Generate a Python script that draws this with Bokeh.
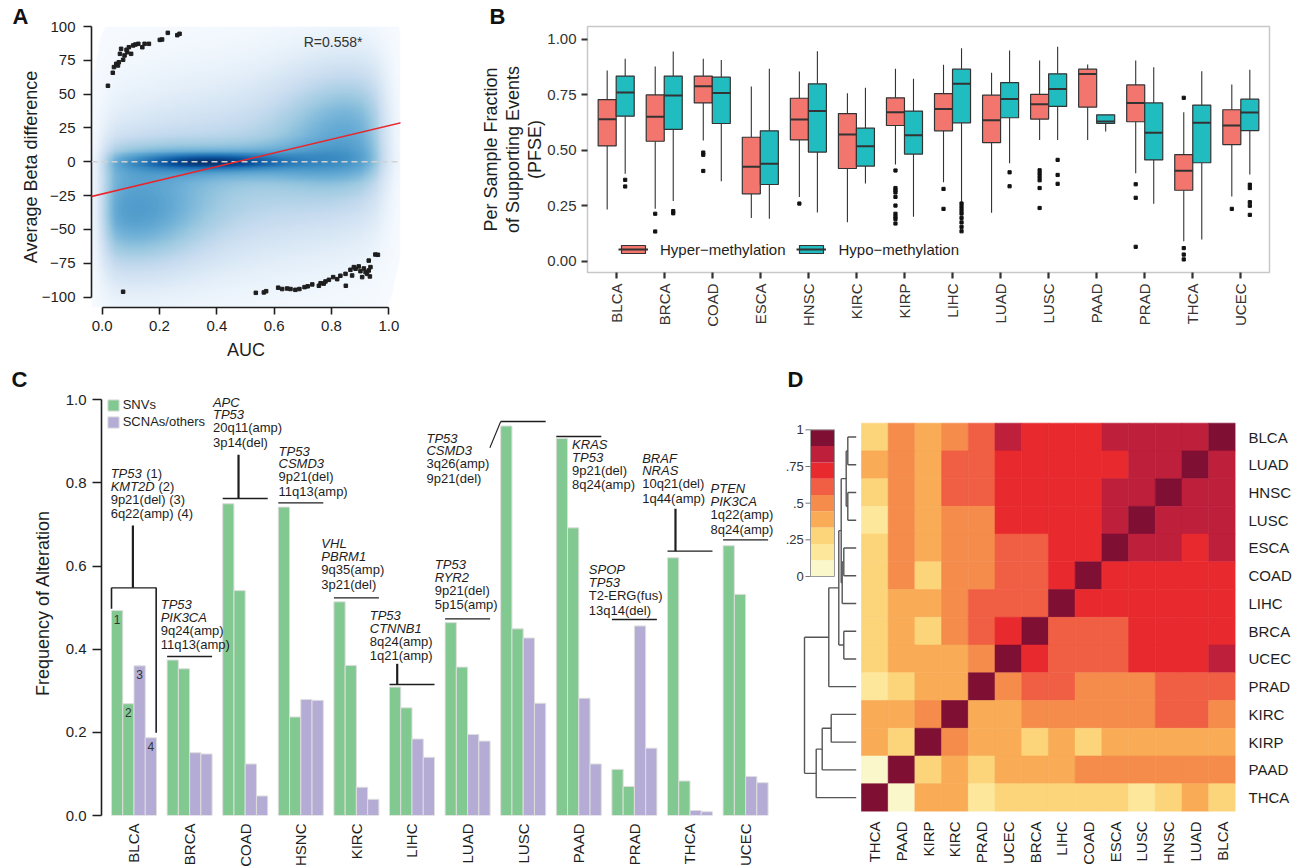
import numpy as np
from bokeh.plotting import figure
from bokeh.models import (Range1d, FixedTicker, LinearColorMapper, Slope, Span,
                          Legend, LegendItem, ColumnDataSource)
from bokeh.layouts import row, column
from bokeh.embed import file_html
from bokeh.resources import INLINE
from bokeh.palettes import Blues256
from bokeh.transform import transform
from bokeh.core.properties import value

FONT = "Liberation Sans"
INK = "#1e1e1e"

# ======================= DATA =======================
# ---- Panel A ----
auc_ticks = [0.0, 0.2, 0.4, 0.6, 0.8, 1.0]
auc_labels = ["0.0", "0.2", "0.4", "0.6", "0.8", "1.0"]
beta_ticks = [-100, -75, -50, -25, 0, 25, 50, 75, 100]
beta_labels = ["\u2212100", "\u221275", "\u221250", "\u221225", "0", "25", "50", "75", "100"]
hi_auc = [0.020, 0.037, 0.041, 0.049, 0.055, 0.058, 0.062, 0.066, 0.073, 0.078, 0.085, 0.087,
          0.093, 0.101, 0.108, 0.116, 0.126, 0.140, 0.148, 0.163, 0.201, 0.209, 0.229, 0.262, 0.270]
hi_beta = [56.2, 65.8, 70.0, 72.4, 71.2, 73.6, 79.8, 83.5, 75.4, 78.6, 82.8, 81.0,
           84.7, 79.8, 86.0, 86.7, 87.2, 84.7, 87.2, 87.2, 90.1, 90.4, 95.3, 93.6, 94.6]
lo_auc = [0.073, 0.536, 0.564, 0.572, 0.614, 0.628, 0.645, 0.657, 0.674, 0.688, 0.706, 0.717,
          0.733, 0.756, 0.762, 0.773, 0.779, 0.791, 0.806, 0.820, 0.831, 0.849, 0.850, 0.866,
          0.872, 0.878, 0.884, 0.895, 0.901, 0.907, 0.913, 0.919, 0.924, 0.930, 0.934, 0.936,
          0.930, 0.953, 0.962]
lo_beta = [-96.0, -96.8, -96.5, -95.6, -93.0, -94.0, -93.6, -94.0, -94.6, -94.0, -92.6, -92.0,
           -90.6, -91.6, -89.7, -90.0, -88.4, -87.2, -85.2, -86.7, -84.2, -82.8, -91.6, -79.8,
           -84.0, -77.8, -79.0, -77.3, -80.8, -85.2, -78.8, -81.5, -82.8, -80.3, -84.7, -77.8,
           -73.0, -68.5, -68.7]
fit_gradient = 50.4
fit_intercept = -23.7
r_label = "R=0.558*"
# density of all probes, described as Gaussian lobes inside soft AUC edges
dens_cx = [0.08, 0.88, 0.50, 0.38, 0.45]
dens_cy = [-38.0, 24.0, -8.0, 0.0, 0.0]
dens_sx = [0.20, 0.18, 0.35, 0.17, 0.40]
dens_sy = [32.0, 36.0, 45.0, 4.0, 9.0]
dens_w = [0.50, 0.42, 0.33, 0.45, 0.25]
dens_x_edges = [0.0, 0.985]
dens_edge_soft = [0.018, 0.025]

# ---- Panel B ----
cancers_b = ["BLCA", "BRCA", "COAD", "ESCA", "HNSC", "KIRC", "KIRP", "LIHC", "LUAD", "LUSC",
             "PAAD", "PRAD", "THCA", "UCEC"]
pfse_ticks = [0.0, 0.25, 0.5, 0.75, 1.0]
pfse_labels = ["0.00", "0.25", "0.50", "0.75", "1.00"]
hyper_hi = [0.860, 0.878, 0.913, 0.788, 0.856, 0.758, 0.868, 0.886, 0.850, 0.905, 0.887, 0.905, 0.672, 0.797]
hyper_q3 = [0.729, 0.750, 0.835, 0.559, 0.735, 0.666, 0.737, 0.756, 0.749, 0.752, 0.866, 0.795, 0.481, 0.683]
hyper_med = [0.640, 0.651, 0.789, 0.426, 0.639, 0.571, 0.672, 0.686, 0.636, 0.708, 0.844, 0.713, 0.408, 0.612]
hyper_q1 = [0.520, 0.541, 0.714, 0.304, 0.547, 0.418, 0.612, 0.588, 0.535, 0.641, 0.695, 0.629, 0.320, 0.526]
hyper_lo = [0.233, 0.236, 0.544, 0.195, 0.289, 0.176, 0.436, 0.356, 0.218, 0.547, 0.547, 0.397, 0.090, 0.292]
hypo_hi = [0.913, 0.946, 0.908, 0.868, 0.947, 0.782, 0.823, 0.961, 0.950, 0.967, 0.660, 0.875, 0.857, 0.863]
hypo_q3 = [0.835, 0.835, 0.830, 0.588, 0.800, 0.600, 0.677, 0.866, 0.805, 0.845, 0.660, 0.714, 0.704, 0.731]
hypo_med = [0.761, 0.747, 0.759, 0.439, 0.678, 0.519, 0.568, 0.800, 0.732, 0.777, 0.630, 0.579, 0.624, 0.671]
hypo_q1 = [0.654, 0.595, 0.621, 0.346, 0.492, 0.429, 0.483, 0.624, 0.647, 0.698, 0.621, 0.457, 0.444, 0.589]
hypo_lo = [0.394, 0.271, 0.361, 0.192, 0.220, 0.350, 0.200, 0.266, 0.442, 0.547, 0.585, 0.259, 0.098, 0.391]
hyper_out_cancer = ["BRCA", "BRCA", "COAD", "COAD", "COAD", "HNSC",
                    "KIRP", "KIRP", "KIRP", "KIRP", "KIRP", "KIRP", "KIRP", "KIRP", "KIRP", "KIRP",
                    "LIHC", "LIHC", "LUSC", "LUSC", "LUSC", "LUSC", "LUSC", "LUSC",
                    "PRAD", "PRAD", "PRAD", "THCA", "THCA", "THCA", "THCA", "UCEC"]
hyper_out_value = [0.214, 0.134, 0.490, 0.480, 0.407, 0.260,
                   0.409, 0.330, 0.320, 0.310, 0.290, 0.251, 0.214, 0.200, 0.190, 0.170,
                   0.326, 0.236, 0.410, 0.395, 0.380, 0.365, 0.330, 0.240,
                   0.347, 0.286, 0.065, 0.737, 0.059, 0.030, 0.008, 0.236]
hypo_out_cancer = ["BLCA", "BLCA", "BRCA", "BRCA",
                   "LIHC", "LIHC", "LIHC", "LIHC", "LIHC", "LIHC", "LIHC", "LIHC",
                   "LUAD", "LUAD", "LUSC", "LUSC", "LUSC",
                   "UCEC", "UCEC", "UCEC", "UCEC", "UCEC"]
hypo_out_value = [0.367, 0.337, 0.226, 0.216,
                  0.260, 0.245, 0.230, 0.215, 0.195, 0.175, 0.155, 0.135,
                  0.401, 0.338, 0.457, 0.389, 0.349,
                  0.345, 0.330, 0.266, 0.250, 0.209]

# ---- Panel C ----
groups_c = ["BLCA", "BRCA", "COAD", "HSNC", "KIRC", "LIHC", "LUAD", "LUSC", "PAAD", "PRAD", "THCA", "UCEC"]
freq_ticks = [0.0, 0.2, 0.4, 0.6, 0.8, 1.0]
freq_labels = ["0.0", "0.2", "0.4", "0.6", "0.8", "1.0"]
snv1 = [0.493, 0.374, 0.750, 0.742, 0.514, 0.309, 0.464, 0.937, 0.907, 0.111, 0.620, 0.649]
snv2 = [0.269, 0.353, 0.541, 0.237, 0.361, 0.259, 0.357, 0.449, 0.692, 0.070, 0.083, 0.532]
scna1 = [0.360, 0.151, 0.124, 0.279, 0.068, 0.184, 0.195, 0.427, 0.282, 0.456, 0.012, 0.094]
scna2 = [0.187, 0.148, 0.047, 0.277, 0.039, 0.140, 0.179, 0.270, 0.124, 0.162, 0.009, 0.079]
gene1 = ["TP53", "TP53", "APC", "TP53", "VHL", "TP53", "TP53", "TP53", "KRAS", "SPOP", "BRAF", "PTEN"]
gene2 = ["KMT2D", "PIK3CA", "TP53", "CSMD3", "PBRM1", "CTNNB1", "RYR2", "CSMD3", "TP53", "TP53", "NRAS", "PIK3CA"]
event1 = ["9p21(del) (3)", "9q24(amp)", "20q11(amp)", "9p21(del)", "9q35(amp)", "8q24(amp)", "9p21(del)",
          "3q26(amp)", "9p21(del)", "T2-ERG(fus)", "10q21(del)", "1q22(amp)"]
event2 = ["6q22(amp) (4)", "11q13(amp)", "3p14(del)", "11q13(amp)", "3p21(del)", "1q21(amp)", "5p15(amp)",
          "9p21(del)", "8q24(amp)", "13q14(del)", "1q44(amp)", "8q24(amp)"]
blca_numbers = ["1", "2", "3", "4"]
blca_gene_tags = ["(1)", "(2)"]

# ---- Panel D ----
row_names = ["BLCA", "LUAD", "HNSC", "LUSC", "ESCA", "COAD", "LIHC", "BRCA", "UCEC", "PRAD", "KIRC", "KIRP", "PAAD", "THCA"]
col_names = ["THCA", "PAAD", "KIRP", "KIRC", "PRAD", "UCEC", "BRCA", "LIHC", "COAD", "ESCA", "LUSC", "HNSC", "LUAD", "BLCA"]
corr = [
    [.27, .50, .38, .50, .61, .83, .72, .72, .72, .83, .83, .83, .83, 1.0],
    [.38, .50, .38, .61, .61, .72, .72, .72, .72, .72, .83, .83, 1.0, .83],
    [.27, .50, .38, .61, .61, .72, .72, .72, .72, .83, .83, 1.0, .83, .83],
    [.16, .50, .38, .50, .50, .72, .72, .72, .72, .83, 1.0, .83, .83, .83],
    [.27, .50, .38, .50, .50, .61, .61, .72, .72, 1.0, .83, .83, .72, .83],
    [.27, .50, .27, .50, .50, .61, .61, .72, 1.0, .72, .72, .72, .72, .72],
    [.27, .38, .38, .50, .61, .61, .61, 1.0, .72, .72, .72, .72, .72, .72],
    [.27, .38, .27, .50, .61, .72, 1.0, .61, .61, .61, .72, .72, .72, .72],
    [.27, .38, .38, .38, .50, 1.0, .72, .61, .61, .61, .72, .72, .72, .83],
    [.16, .27, .38, .38, 1.0, .50, .61, .61, .50, .50, .50, .61, .61, .61],
    [.38, .38, .50, 1.0, .38, .38, .50, .50, .50, .50, .50, .61, .61, .50],
    [.38, .27, 1.0, .50, .38, .38, .27, .38, .27, .38, .38, .38, .38, .38],
    [.05, 1.0, .27, .38, .27, .38, .38, .38, .50, .50, .50, .50, .50, .50],
    [1.0, .05, .38, .38, .16, .27, .27, .27, .27, .27, .16, .27, .38, .27],
]
dend_merges = [("BLCA", "LUAD", 8.4), ("HNSC", "LUSC", 8.4), (0, 1, 10.0), ("ESCA", "COAD", 12.4),
               (3, "LIHC", 14.0), (2, 4, 15.0), ("BRCA", "UCEC", 12.4), (5, 6, 17.4), (7, "PRAD", 27.4),
               ("KIRC", "KIRP", 25.0), (9, "PAAD", 34.0), (10, "THCA", 40.0), (8, 11, 51.7)]
cb_ticks = [0.0, 0.25, 0.5, 0.75, 1.0]
cb_labels = ["0", ".25", ".5", ".75", "1"]
heat_palette = ["#FAF7CB", "#FDE79B", "#FCD47A", "#F9AB56", "#F58C4B",
                "#F05E43", "#E82A2F", "#BE1F3A", "#7F0F33"]


# ======================= HELPERS =======================
def style_axis(ax, lab="15px", title="18px", color=INK):
    ax.major_label_text_font = FONT
    ax.major_label_text_font_size = lab
    ax.major_label_text_color = color
    ax.axis_label_text_font = FONT
    ax.axis_label_text_font_size = title
    ax.axis_label_text_font_style = "normal"
    ax.axis_label_text_color = color
    ax.minor_tick_line_color = None
    ax.major_tick_in = 0


def panel_letter(p, txt, offset, valign, standoff):
    p.title.text = txt
    p.title.align = "left"
    p.title.offset = offset
    p.title.standoff = standoff
    p.title.text_font = FONT
    p.title.text_font_size = "22px"
    p.title.text_font_style = "bold"
    p.title.text_color = "#111111"
    p.title.vertical_align = valign


def base_fig(**kw):
    p = figure(output_backend="svg", toolbar_location=None, **kw)
    p.grid.visible = False
    p.outline_line_color = None
    p.background_fill_color = "white"
    p.border_fill_color = "white"
    return p


# ======================= PANEL A =======================
ax0, ax1 = -0.0373, 1.0408
ay0, ay1 = -107.65, 100.0
pA = base_fig(frame_width=309, frame_height=281, min_border_left=91, min_border_right=70,
              min_border_top=26, min_border_bottom=57,
              x_range=Range1d(ax0, ax1), y_range=Range1d(ay0, ay1))
gx = np.linspace(ax0, ax1, 330)
gy = np.linspace(ay0, ay1, 300)
GX, GY = np.meshgrid(gx, gy)
dens = np.zeros_like(GX)
for cx, cy, sx, sy, w in zip(dens_cx, dens_cy, dens_sx, dens_sy, dens_w):
    dens += w * np.exp(-0.5 * ((GX - cx) / sx) ** 2 - 0.5 * ((GY - cy) / sy) ** 2)
env = (1.0 / (1.0 + np.exp(-(GX - dens_x_edges[0]) / dens_edge_soft[0]))
       * 1.0 / (1.0 + np.exp(-(dens_x_edges[1] - GX) / dens_edge_soft[1])))
dens = dens * env
blues = list(reversed(Blues256))
blues[0] = "#ffffff"
pA.image(image=[dens], x=ax0, y=ay0, dw=ax1 - ax0, dh=ay1 - ay0,
         color_mapper=LinearColorMapper(palette=blues, low=0, high=1.1))
pA.scatter(hi_auc, hi_beta, marker="square", size=3.5, color=INK)
pA.scatter(lo_auc, lo_beta, marker="square", size=3.5, color=INK)
pA.add_layout(Span(location=0, dimension="width", line_color="#d2d2d2", line_dash="6 4", line_width=1.5))
pA.add_layout(Slope(gradient=fit_gradient, y_intercept=fit_intercept, line_color="#e8262c", line_width=1.6))
pA.text(x=[0.703], y=[88.4], text=[r_label], text_font=value(FONT), text_font_size="14px",
        text_baseline="middle", text_align="left", text_color="#333333")
pA.xaxis.ticker = FixedTicker(ticks=auc_ticks)
pA.xaxis.major_label_overrides = dict(zip(auc_ticks, auc_labels))
pA.yaxis.ticker = FixedTicker(ticks=beta_ticks)
pA.yaxis.major_label_overrides = dict(zip(beta_ticks, beta_labels))
pA.xaxis.bounds = (0, 1)
pA.yaxis.bounds = (-100, 100)
pA.xaxis.axis_label = "AUC"
pA.yaxis.axis_label = "Average Beta difference"
for ax in (pA.xaxis, pA.yaxis):
    style_axis(ax)
    ax.axis_line_width = 1.6
    ax.axis_line_color = INK
    ax.major_tick_line_width = 1.6
    ax.major_tick_line_color = INK
pA.xaxis.major_tick_out = 7
pA.yaxis.major_tick_out = 8
pA.xaxis.major_label_standoff = 6
pA.xaxis.axis_label_standoff = 6
pA.yaxis.major_label_standoff = 8
pA.yaxis.axis_label_standoff = -2
panel_letter(pA, "A", -79, "bottom", -4)

# ======================= PANEL B =======================
HYPER = "#F3766E"
HYPO = "#20BCC0"
EDGE = "#333333"
pB = base_fig(frame_width=682, frame_height=246, min_border_left=117, min_border_right=27,
              min_border_top=26, min_border_bottom=92,
              x_range=Range1d(-0.597, 13.597), y_range=Range1d(-0.051, 1.0586))
pB.outline_line_color = "#c8c8c8"
pB.outline_line_width = 1.5
pos = {c: i for i, c in enumerate(cancers_b)}
xs = np.arange(len(cancers_b), dtype=float)
off, bw = 0.1875, 0.375
renders = {}
for name, xpos, hi, q3, md, q1, lo, col in (
        ("hyper", xs - off, hyper_hi, hyper_q3, hyper_med, hyper_q1, hyper_lo, HYPER),
        ("hypo", xs + off, hypo_hi, hypo_q3, hypo_med, hypo_q1, hypo_lo, HYPO)):
    pB.segment(x0=xpos, y0=q3, x1=xpos, y1=hi, line_color=EDGE, line_width=1.1)
    pB.segment(x0=xpos, y0=q1, x1=xpos, y1=lo, line_color=EDGE, line_width=1.1)
    bx = pB.vbar(x=xpos, width=bw, top=q3, bottom=q1, fill_color=col, line_color=EDGE, line_width=1.2)
    md_r = pB.segment(x0=xpos - off, x1=xpos + off, y0=md, y1=md, line_color=EDGE, line_width=2)
    renders[name] = [bx, md_r]
pB.scatter([pos[c] - off for c in hyper_out_cancer], hyper_out_value, marker="square", size=3.2,
           color="#111111")
pB.scatter([pos[c] + off for c in hypo_out_cancer], hypo_out_value, marker="square", size=3.2,
           color="#111111")
legB = Legend(items=[LegendItem(label="Hyper\u2212methylation", renderers=renders["hyper"]),
                     LegendItem(label="Hypo\u2212methylation", renderers=renders["hypo"])],
              location=(31, 13), orientation="horizontal", glyph_width=30, glyph_height=10,
              label_standoff=12, spacing=11, padding=0, margin=0, border_line_color=None,
              background_fill_alpha=0, label_text_font=FONT, label_text_font_size="15px",
              label_height=20, label_text_color=INK)
pB.add_layout(legB)
pB.xaxis.ticker = FixedTicker(ticks=list(range(len(cancers_b))))
pB.xaxis.major_label_overrides = {i: c for i, c in enumerate(cancers_b)}
pB.xaxis.major_label_orientation = np.pi / 2
pB.yaxis.ticker = FixedTicker(ticks=pfse_ticks)
pB.yaxis.major_label_overrides = dict(zip(pfse_ticks, pfse_labels))
pB.yaxis.axis_label = "Per Sample Fraction\nof Supporting Events\n(PFSE)"
for ax in (pB.xaxis, pB.yaxis):
    style_axis(ax, color="#333333")
    ax.axis_line_color = None
    ax.major_tick_out = 6
    ax.major_tick_line_width = 2.2
    ax.major_tick_line_color = "#333333"
    ax.major_label_standoff = 5
pB.yaxis.axis_label_text_color = INK
pB.yaxis.axis_label_standoff = -1
pB.yaxis.axis_label_text_line_height = 1.1
panel_letter(pB, "B", -98, "bottom", -4)

# ======================= PANEL C =======================
SNV_C = "#82C891"
SCNA_C = "#B4ACD5"
BAR_EDGE = "#dedede"
pC = base_fig(frame_width=673, frame_height=425, min_border_left=101, min_border_right=1,
              min_border_top=26, min_border_bottom=53,
              x_range=Range1d(-0.5845, 11.5199), y_range=Range1d(0, 1.0224))
gxc = np.arange(len(groups_c), dtype=float)
bwc = 0.2023
bar_off = [-1.5 * bwc, -0.5 * bwc, 0.5 * bwc, 1.5 * bwc]
r_snv = None
r_scna = None
for k, (vals, colr) in enumerate(((snv1, SNV_C), (snv2, SNV_C), (scna1, SCNA_C), (scna2, SCNA_C))):
    r = pC.vbar(x=gxc + bar_off[k], width=bwc, top=vals, bottom=0, fill_color=colr,
                line_color=BAR_EDGE, line_width=1)
    if k == 0:
        r_snv = r
    if k == 2:
        r_scna = r
blca_tops = [snv1[0], snv2[0], scna1[0], scna2[0]]
pC.text(x=[bar_off[k] for k in range(4)], y=[t - 0.022 for t in blca_tops], text=blca_numbers,
        text_font=value(FONT), text_font_size="12px", text_align="center", text_baseline="middle",
        text_color="#333333")
# annotation text blocks (placement)
ann_dx = [-0.42, -0.52, -0.58, -0.40, -0.63, -0.76, -0.59, -1.74, -0.12, -0.82, -0.86, -0.63]
ann_y = [0.8227, 0.5076, 0.9942, 0.8764, 0.6536, 0.4811, 0.6038, 0.9076, 0.8925, 0.5911, 0.8595, 0.7859]
line_step = [0.0, 0.0303, 0.0616, 0.0969]
gx_i, gy_i, gt_i = [], [], []
ex, ey, et = [], [], []
for i in range(len(groups_c)):
    x0 = gxc[i] + ann_dx[i]
    gx_i += [x0, x0]
    gy_i += [ann_y[i] - line_step[0], ann_y[i] - line_step[1]]
    gt_i += [gene1[i], gene2[i]]
    ex += [x0, x0]
    ey += [ann_y[i] - line_step[2], ann_y[i] - line_step[3]]
    et += [event1[i], event2[i]]
pC.text(x=gx_i, y=gy_i, text=gt_i, text_font=value(FONT), text_font_size="13px",
        text_font_style="italic", text_baseline="middle", text_align="left", text_color=INK)
pC.text(x=ex, y=ey, text=et, text_font=value(FONT), text_font_size="13px",
        text_baseline="middle", text_align="left", text_color=INK)
pC.text(x=[gxc[0] + ann_dx[0] + 0.64, gxc[0] + ann_dx[0] + 0.86],
        y=[ann_y[0] - line_step[0], ann_y[0] - line_step[1]], text=blca_gene_tags,
        text_font=value(FONT), text_font_size="13px", text_baseline="middle", text_align="left",
        text_color=INK)
brk_y = [0.5478, 0.3825, 0.7626, 0.7522, 0.5237, 0.3151, 0.4732, 0.9478, 0.9117, 0.4715, 0.6358, 0.6632]
half = 2 * bwc
pC.segment(x0=gxc - half, x1=gxc + half, y0=brk_y, y1=brk_y, line_color=INK, line_width=1.3)
stem_grp = [0, 2, 5, 10]
stem_dx = [-0.02, -0.12, -0.266, -0.261]
stem_top = [0.6976, 0.8677, 0.3649, 0.7378]
pC.segment(x0=[gxc[g] + d for g, d in zip(stem_grp, stem_dx)],
           x1=[gxc[g] + d for g, d in zip(stem_grp, stem_dx)],
           y0=[brk_y[g] for g in stem_grp], y1=stem_top, line_color=INK, line_width=2.2)
pC.segment(x0=[gxc[0] - half, gxc[0] + half - 0.006], x1=[gxc[0] - half, gxc[0] + half - 0.006],
           y0=[brk_y[0], brk_y[0]], y1=[0.4972, 0.1989], line_color=INK, line_width=1.6)
pC.segment(x0=[gxc[7] - half], y0=[brk_y[7]], x1=[gxc[7] - 0.599], y1=[0.8845],
           line_color=INK, line_width=1.1)
legC = Legend(items=[LegendItem(label="SNVs", renderers=[r_snv]),
                     LegendItem(label="SCNAs/others", renderers=[r_scna])],
              location=(4.7, 385.7), glyph_width=14, glyph_height=14, label_height=14, spacing=2,
              padding=0, margin=0, label_standoff=3, border_line_color=None, background_fill_alpha=0,
              label_text_font=FONT, label_text_font_size="13px", label_text_color=INK)
pC.add_layout(legC)
pC.xaxis.ticker = FixedTicker(ticks=list(range(len(groups_c))))
pC.xaxis.major_label_overrides = {i: c for i, c in enumerate(groups_c)}
pC.xaxis.major_label_orientation = np.pi / 2
pC.yaxis.ticker = FixedTicker(ticks=freq_ticks)
pC.yaxis.major_label_overrides = dict(zip(freq_ticks, freq_labels))
pC.yaxis.bounds = (0, 1)
pC.yaxis.axis_label = "Frequency of Alteration"
style_axis(pC.xaxis)
style_axis(pC.yaxis)
pC.xaxis.axis_line_color = None
pC.xaxis.major_tick_line_color = None
pC.xaxis.major_tick_out = 0
pC.xaxis.major_label_standoff = 8
pC.yaxis.axis_line_width = 1.6
pC.yaxis.axis_line_color = INK
pC.yaxis.major_tick_out = 9
pC.yaxis.major_tick_line_width = 1.6
pC.yaxis.major_tick_line_color = INK
pC.yaxis.major_label_standoff = 6
pC.yaxis.axis_label_standoff = 10
panel_letter(pC, "C", -90, "top", -6)

# ======================= PANEL D =======================
nrow = len(row_names)
pD = base_fig(frame_width=459, frame_height=421, min_border_left=1, min_border_right=60,
              min_border_top=26, min_border_bottom=57,
              x_range=Range1d(-3.182, 14.003), y_range=Range1d(0, 15.177), y_axis_location="right")
pD.extra_x_ranges = {"dend": Range1d(79.7, -379.3)}
pD.extra_y_ranges = {"cb": Range1d(-1.602, 1.268)}
hx, hy, hv = [], [], []
for i in range(nrow):
    for j in range(len(col_names)):
        hx.append(j + 0.5)
        hy.append(nrow - 0.5 - i)
        hv.append(corr[i][j])
hmap = LinearColorMapper(palette=heat_palette, low=0, high=1)
srcD = ColumnDataSource(dict(x=hx, y=hy, v=hv))
pD.rect(x="x", y="y", width=1, height=1, source=srcD, fill_color=transform("v", hmap),
        line_color=transform("v", hmap), line_width=0.6)
leaf_y = {n: nrow - 0.5 - i for i, n in enumerate(row_names)}
nodes = []


def node_pos(c):
    if isinstance(c, str):
        return leaf_y[c], 0.0
    return nodes[c]


sx0, sy0, sx1, sy1 = [], [], [], []
for a, b, h in dend_merges:
    ya, ha = node_pos(a)
    yb, hb = node_pos(b)
    sx0 += [ha, h, hb]
    sy0 += [ya, ya, yb]
    sx1 += [h, h, h]
    sy1 += [ya, yb, yb]
    nodes.append(((ya + yb) / 2.0, h))
pD.segment(x0=sx0, y0=sy0, x1=sx1, y1=sy1, x_range_name="dend", line_color="#555555",
           line_width=1.4)
edges = np.linspace(0, 1, len(heat_palette) + 1)
cbl, cbr = -1.909, -1.011
pD.quad(left=cbl, right=cbr, bottom=edges[:-1], top=edges[1:], fill_color=heat_palette,
        line_color=None, y_range_name="cb")
pD.quad(left=[cbl], right=[cbr], bottom=[0], top=[1], fill_color=None, line_color="#9a9a9a",
        line_width=1, y_range_name="cb")
pD.segment(x0=-2.097, x1=cbl, y0=cb_ticks, y1=cb_ticks, y_range_name="cb", line_color="#777777",
           line_width=1)
pD.text(x=-2.16, y=cb_ticks, text=cb_labels, y_range_name="cb", text_font=value(FONT),
        text_font_size="13px", text_align="right", text_baseline="middle", text_color="#333333")
pD.xaxis.ticker = FixedTicker(ticks=[j + 0.5 for j in range(len(col_names))])
pD.xaxis.major_label_overrides = {j + 0.5: c for j, c in enumerate(col_names)}
pD.xaxis.major_label_orientation = np.pi / 2
pD.yaxis.ticker = FixedTicker(ticks=[nrow - 0.5 - i for i in range(nrow)])
pD.yaxis.major_label_overrides = {nrow - 0.5 - i: r for i, r in enumerate(row_names)}
for ax in (pD.xaxis, pD.yaxis):
    style_axis(ax)
    ax.axis_line_color = None
    ax.major_tick_line_color = None
    ax.major_tick_out = 0
pD.xaxis.major_label_standoff = 10
pD.yaxis.major_label_standoff = 13
panel_letter(pD, "D", 11, "top", -6)

layout = column(row(pA, pB), row(pC, pD))
open("out.html", "w").write(file_html(layout, INLINE, "Figure"))
